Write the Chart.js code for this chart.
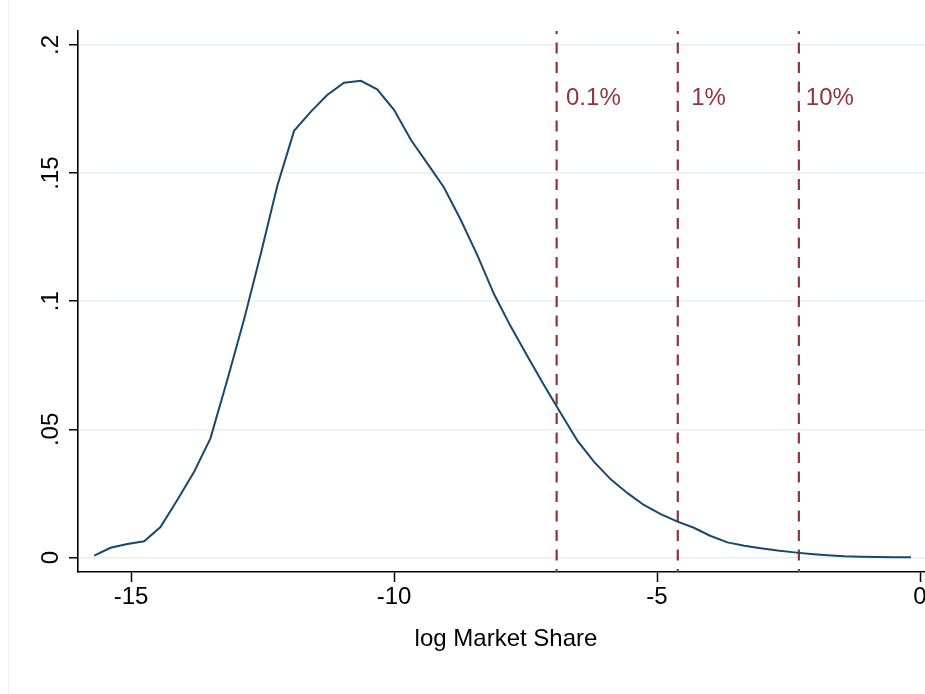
<!DOCTYPE html>
<html>
<head>
<meta charset="utf-8">
<title>log Market Share density</title>
<script src="https://cdn.jsdelivr.net/npm/chart.js@4.4.1/dist/chart.umd.min.js"></script>
<style>
    html, body { margin: 0; padding: 0; background: #ffffff; }
    #wrap { width: 925px; height: 694px; }
</style>
</head>
<body>
<div id="wrap"><canvas id="densityChart" width="925" height="694"></canvas></div>
<script>
// Kernel density of log market share (50 evaluation points)
const logShare = [
    -15.70, -15.39, -15.07, -14.75, -14.44, -14.12, -13.80, -13.49, -13.17, -12.85,
    -12.53, -12.22, -11.90, -11.58, -11.27, -10.95, -10.63, -10.32, -10.00, -9.68,
    -9.37, -9.05, -8.73, -8.41, -8.10, -7.78, -7.46, -7.15, -6.83, -6.51,
    -6.20, -5.88, -5.56, -5.25, -4.93, -4.61, -4.30, -3.98, -3.66, -3.34,
    -3.03, -2.71, -2.39, -2.08, -1.76, -1.44, -1.13, -0.81, -0.49, -0.17
];
const density = [
    0.0007, 0.0038, 0.0053, 0.0063, 0.0119, 0.0224, 0.0335, 0.0465, 0.0693, 0.0930,
    0.1187, 0.1450, 0.1665, 0.1740, 0.1805, 0.1853, 0.1860, 0.1827, 0.1747, 0.1630,
    0.1539, 0.1444, 0.1317, 0.1177, 0.1028, 0.0901, 0.0784, 0.0673, 0.0563, 0.0455,
    0.0374, 0.0305, 0.0251, 0.0205, 0.0169, 0.0140, 0.0116, 0.0084, 0.0059, 0.0046,
    0.0036, 0.0027, 0.0020, 0.0014, 0.0009, 0.0005, 0.0003, 0.0002, 0.0001, 0.0001
];

// Market share cutoffs: log(0.001), log(0.01), log(0.1)
const cutoffValues = [-6.908, -4.605, -2.303];
const cutoffLabels = ['0.1%', '1%', '10%'];
const cutoffLabelX = [-6.73, -4.35, -2.17];
const cutoffLabelY = 0.18;

// Axis ticks
const xTicks = [-15, -10, -5, 0];
const yTicks = [0, 0.05, 0.1, 0.15, 0.2];
const yTickLabels = ['0', '.05', '.1', '.15', '.2'];

const X_MIN = -16.008, X_MAX = 0.095;
const Y_MIN = -0.00566, Y_MAX = 0.20546;

const NAVY = '#1a476f';
const MAROON = '#90353b';
const GRID = '#e8f0f2';
const FONT = '"Liberation Sans", Arial, Helvetica, sans-serif';
const FONT_SIZE = 24;

// White background plus the faint outer region edge
const background = {
    id: 'background',
    beforeDraw(chart) {
        const ctx = chart.ctx;
        ctx.save();
        ctx.fillStyle = '#ffffff';
        ctx.fillRect(0, 0, chart.width, chart.height);
        ctx.strokeStyle = '#eef3f5';
        ctx.lineWidth = 1;
        ctx.beginPath();
        ctx.moveTo(8.5, 0);
        ctx.lineTo(8.5, chart.height);
        ctx.stroke();
        ctx.restore();
    }
};

// Rotated y labels, cutoff labels and x axis title
const textLayer = {
    id: 'textLayer',
    afterDraw(chart) {
        const ctx = chart.ctx;
        const x = chart.scales.x;
        const y = chart.scales.y;
        ctx.save();
        ctx.font = FONT_SIZE + 'px ' + FONT;

        // cutoff labels
        ctx.fillStyle = MAROON;
        ctx.textAlign = 'left';
        ctx.textBaseline = 'alphabetic';
        cutoffLabels.forEach((label, i) => {
            ctx.fillText(label, x.getPixelForValue(cutoffLabelX[i]), y.getPixelForValue(cutoffLabelY) + 8.6);
        });

        // y tick labels, vertical
        ctx.fillStyle = '#000000';
        yTicks.forEach((v, i) => {
            ctx.save();
            ctx.translate(57.5, y.getPixelForValue(v));
            ctx.rotate(-Math.PI / 2);
            ctx.textAlign = 'center';
            ctx.textBaseline = 'alphabetic';
            ctx.fillText(yTickLabels[i], 0, 0);
            ctx.restore();
        });

        // x axis title
        ctx.textAlign = 'center';
        ctx.textBaseline = 'alphabetic';
        ctx.fillText('log Market Share', 506, 646);
        ctx.restore();
    }
};

const datasets = [{
    label: 'density',
    data: logShare.map((v, i) => ({ x: v, y: density[i] })),
    borderColor: NAVY,
    borderWidth: 2,
    pointRadius: 0,
    tension: 0,
    fill: false
}];

cutoffValues.forEach((c, i) => {
    datasets.push({
        label: cutoffLabels[i],
        data: [{ x: c, y: Y_MAX }, { x: c, y: Y_MIN }],
        borderColor: MAROON,
        borderWidth: 2.2,
        borderDash: [11, 8.5],
        borderDashOffset: 8,
        pointRadius: 0,
        fill: false
    });
});

new Chart(document.getElementById('densityChart').getContext('2d'), {
    type: 'line',
    data: { datasets: datasets },
    options: {
        responsive: false,
        animation: false,
        devicePixelRatio: 1,
        layout: { padding: { top: 31, left: 0, right: 0, bottom: 0 } },
        plugins: {
            legend: { display: false },
            tooltip: { enabled: false }
        },
        scales: {
            x: {
                type: 'linear',
                min: X_MIN,
                max: X_MAX,
                afterBuildTicks: (scale) => {
                    scale.ticks = xTicks.map(v => ({ value: v }));
                },
                afterFit: (scale) => {
                    scale.height = 122;
                    scale.paddingLeft = 0;
                    scale.paddingRight = 0;
                },
                grid: {
                    drawOnChartArea: false,
                    drawTicks: true,
                    tickLength: 10,
                    tickColor: '#000000',
                    tickWidth: 1.5
                },
                border: { color: '#000000', width: 1.6 },
                ticks: {
                    color: '#000000',
                    font: { family: FONT, size: FONT_SIZE },
                    padding: 1,
                    maxRotation: 0,
                    autoSkip: false,
                    callback: (v) => String(v)
                }
            },
            y: {
                type: 'linear',
                min: Y_MIN,
                max: Y_MAX,
                afterBuildTicks: (scale) => {
                    scale.ticks = yTicks.map(v => ({ value: v }));
                },
                afterFit: (scale) => {
                    scale.width = 78;
                    scale.paddingTop = 0;
                    scale.paddingBottom = 0;
                },
                grid: {
                    color: GRID,
                    lineWidth: 1.5,
                    drawTicks: true,
                    tickLength: 9,
                    tickColor: '#000000',
                    tickWidth: 1.5
                },
                border: { color: '#000000', width: 1.6 },
                ticks: { display: false }
            }
        }
    },
    plugins: [background, textLayer]
});
</script>
</body>
</html>
